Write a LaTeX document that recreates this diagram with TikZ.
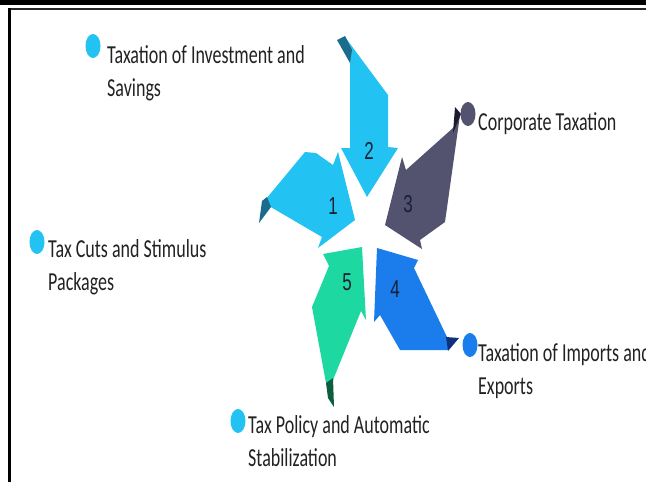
\documentclass[tikz,border=0pt]{standalone}
\usepackage{fontspec}
\usepackage{graphicx}
\usepackage{tikz}
\newfontfamily\labelfont{Carlito}
\newfontfamily\numberfont{Liberation Sans}
\definecolor{skyarrow}{HTML}{22C3F3}
\definecolor{skyfold}{HTML}{1B6C8C}
\definecolor{slatearrow}{HTML}{53526F}
\definecolor{slatefold}{HTML}{1D1C2E}
\definecolor{bluearrow}{HTML}{1A7DEB}
\definecolor{bluefold}{HTML}{0D2F7D}
\definecolor{greenarrow}{HTML}{1ED8A2}
\definecolor{greenfold}{HTML}{0D5E3F}
\definecolor{numcolor}{HTML}{1A2035}
\definecolor{labelcolor}{HTML}{222222}
\newcommand{\taxbullet}[2] {\fill [#2] (#1) ellipse [x radius=7.5, y radius=12];}
\newcommand{\taxlabel}[3] {\node at (#1) (#2) [anchor=base west, inner sep=0pt, text=labelcolor, font=\labelfont\fontsize{18}{23.6}\selectfont] {\scalebox{1}[1.44]{\begin{tabular}[t]{@{}l@{}}#3\end{tabular}}};}
\newcommand{\taxnumber}[2] {\node at (#1) (n#2) [inner sep=0pt, text=numcolor, font=\numberfont\fontsize{17}{20}\selectfont] {\scalebox{1}[1.44]{#2}};}

\begin{document}
\begin{tikzpicture}[x=1pt, y=-1pt]

\path [use as bounding box] (0,0) rectangle (646,482);
\clip (0,0) rectangle (646,482);

% frame
\fill [black] (0,0) rectangle (646,5);
\draw [line width=2pt, black!85] (8.5,9) -- (646,9);
\draw [line width=2.5pt] (9.7,8) -- (9.7,482);

% arrows
\fill [skyarrow] (266,199) -- (305,152) -- (316,153) -- (333,165) -- (338,152) -- (355,220) -- (318,248) -- (322,237) -- (269,206) -- cycle;
\fill [skyfold] (259,223) -- (262,201) -- (267,197) -- (271,207) -- cycle;
\fill [skyarrow] (345,37) -- (388,95) -- (388,147) -- (398,148) -- (367,197) -- (341,148) -- (350,148) -- (350,60) -- cycle;
\fill [skyfold] (337,40) -- (345,36) -- (352,50) -- (350,63) -- cycle;
\fill [slatearrow] (453,128) -- (460,115) -- (445,222) -- (420,240) -- (422,249) -- (385,225) -- (402,157) -- (406,170) -- cycle;
\fill [slatefold] (455,107) -- (461,114) -- (453,133) -- cycle;
\fill [bluearrow] (377,248) -- (418,260) -- (414,268) -- (447,337) -- (448,350) -- (400,350) -- (380,315) -- (374,322) -- cycle;
\fill [bluefold] (446,337) -- (459,338) -- (448,351) -- cycle;
\fill [greenarrow] (323,254) -- (362,247) -- (366,320) -- (361,311) -- (333,380) -- (326,383) -- (312,307) -- (329,266) -- cycle;
\fill [greenfold] (326,383) -- (333,378) -- (334,407) -- (328,398) -- cycle;

\taxnumber {333,206} {1};
\taxnumber {369,151} {2};
\taxnumber {408,204} {3};
\taxnumber {395,289} {4};
\taxnumber {347,282} {5};

% labels
\taxbullet {93,46} {skyarrow};
\taxlabel {107,63} {investment} {Taxation of Investment and\\Savings};
\taxbullet {468,114} {slatearrow};
\taxlabel {478,130} {corporate} {Corporate Taxation};
\taxbullet {37,242} {skyarrow};
\taxlabel {48,257} {stimulus} {Tax Cuts and Stimulus\\Packages};
\taxbullet {470,345} {bluearrow};
\taxlabel {478,361} {imports} {Taxation of Imports and\\Exports};
\taxbullet {238,421} {skyarrow};
\taxlabel {248,433} {stabilization} {Tax Policy and Automatic\\Stabilization};

\end{tikzpicture}
\end{document}
